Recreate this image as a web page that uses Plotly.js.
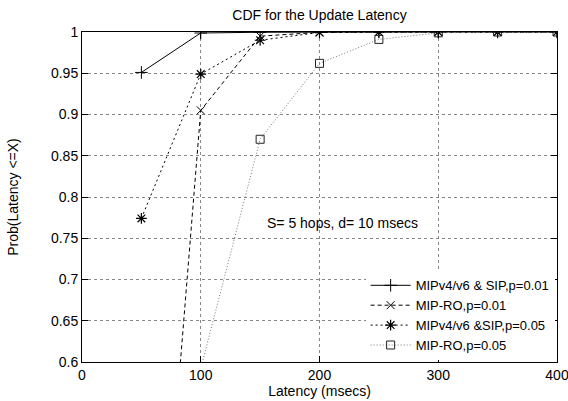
<!DOCTYPE html>
<html>
<head>
<meta charset="utf-8">
<script src="https://cdn.plot.ly/plotly-3.0.1.min.js"></script>
<style>html,body{margin:0;padding:0;background:#fff;}#chart{width:568px;height:401px;}</style>
</head>
<body>
<div id="chart"></div>
<script>
// Data
const names = ["MIPv4/v6 & SIP,p=0.01", "MIP-RO,p=0.01", "MIPv4/v6 &SIP,p=0.05", "MIP-RO,p=0.05"];
const x1 = [50, 100, 150, 200, 250, 300, 350, 400];
const y1 = [0.951, 0.9988, 0.9997, 1.0, 1.0, 1.0, 1.0, 1.0];
const x2 = [50, 100, 150, 200, 250, 300, 350, 400];
const y2 = [0.015, 0.905, 0.995, 0.9995, 1.0, 1.0, 1.0, 1.0];
const x3 = [50, 100, 150, 200, 250, 300, 350, 400];
const y3 = [0.774, 0.949, 0.990, 0.9995, 1.0, 1.0, 1.0, 1.0];
const x4 = [100, 150, 200, 250, 300, 350, 400];
const y4 = [0.592, 0.870, 0.962, 0.991, 0.999, 1.0, 1.0];
const xTicks = [0, 100, 200, 300, 400];
const yTicks = [0.6, 0.65, 0.7, 0.75, 0.8, 0.85, 0.9, 0.95, 1];

const FONT = "'Liberation Sans', Arial, sans-serif";

const traces = [
  {x: x1, y: y1, name: names[0], mode: "lines+markers",
   line: {color: "#000", width: 1, dash: "solid"},
   marker: {symbol: "cross-thin-open", size: 9, color: "#000", line: {color: "#000", width: 1}}},
  {x: x2, y: y2, name: names[1], mode: "lines+markers",
   line: {color: "#000", width: 1, dash: "4px,3px"},
   marker: {symbol: "x-thin-open", size: 8, color: "#000", line: {color: "#000", width: 1}}},
  {x: x3, y: y3, name: names[2], mode: "lines+markers",
   line: {color: "#000", width: 1, dash: "2px,3px"},
   marker: {symbol: "asterisk-open", size: 9, color: "#000", line: {color: "#000", width: 1.2}}},
  {x: x4, y: y4, name: names[3], mode: "lines+markers",
   line: {color: "#777", width: 1, dash: "1px,2px"},
   marker: {symbol: "square-open", size: 8, color: "#222", line: {color: "#222", width: 1}}}
];

const axisCommon = {
  showline: true, linecolor: "#000", linewidth: 1, mirror: "allticks",
  ticks: "inside", ticklen: 6, tickcolor: "#000", tickwidth: 1,
  showgrid: true, gridcolor: "#888", griddash: "dot", gridwidth: 1,
  zeroline: false, tickfont: {family: FONT, size: 14, color: "#000"}
};

const layout = {
  width: 568, height: 401,
  margin: {l: 82, r: 11, t: 32, b: 39},
  paper_bgcolor: "#fff", plot_bgcolor: "#fff",
  font: {family: FONT, size: 14, color: "#000"},
  title: {text: "CDF for the Update Latency", font: {family: FONT, size: 14, color: "#000"},
          x: 0.5625, xanchor: "center", yref: "container", y: 0.963, yanchor: "middle"},
  xaxis: Object.assign({}, axisCommon, {
    range: [0, 400], tickvals: xTicks, ticktext: xTicks.map(String),
    ticklabeloverflow: "allow",
    title: {text: "Latency (msecs)", font: {family: FONT, size: 14}, standoff: 2}
  }),
  yaxis: Object.assign({}, axisCommon, {
    range: [0.6, 1], tickvals: yTicks, ticktext: yTicks.map(String),
    title: {text: "Prob(Latency <=X)", font: {family: FONT, size: 14}, standoff: 29}
  }),
  showlegend: true,
  legend: {x: 0.995, xanchor: "right", y: 0.005, yanchor: "bottom", bgcolor: "#fff",
           borderwidth: 0, font: {family: FONT, size: 13, color: "#000"},
           tracegroupgap: 0, itemwidth: 40},
  annotations: [{
    x: 219, y: 0.769, xref: "x", yref: "y", text: "S= 5 hops, d= 10 msecs",
    showarrow: false, font: {family: FONT, size: 14, color: "#000"}
  }]
};

Plotly.newPlot("chart", traces, layout, {staticPlot: true, displayModeBar: false});
</script>
</body>
</html>
